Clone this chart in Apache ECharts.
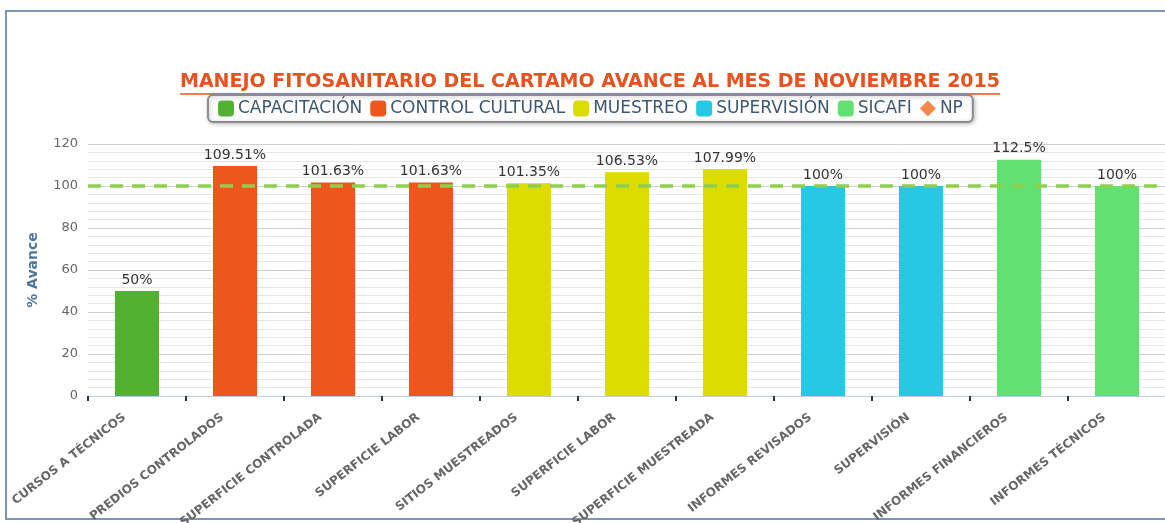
<!DOCTYPE html>
<html>
<head>
<meta charset="utf-8">
<script src="https://cdn.jsdelivr.net/npm/echarts@6/dist/echarts.min.js"></script>
<style>
  html, body { margin: 0; padding: 0; background: #fff; overflow: hidden; }
  #frame { position: absolute; left: 5px; top: 10px; width: 1175px; height: 506px; border: 2px solid #7f93b3; }
  #box { position: absolute; left: 0; top: 0; width: 1165px; height: 523px; }
</style>
</head>
<body>
<div id="frame"></div>
<div id="box"></div>
<script>
var categorias = ['CURSOS A TÉCNICOS', 'PREDIOS CONTROLADOS', 'SUPERFICIE CONTROLADA', 'SUPERFICIE LABOR',
    'SITIOS MUESTREADOS', 'SUPERFICIE LABOR', 'SUPERFICIE MUESTREADA', 'INFORMES REVISADOS',
    'SUPERVISIÓN', 'INFORMES FINANCIEROS', 'INFORMES TÉCNICOS'];
// valores por componente (null donde no aplica)
var capacitacion   = [50, null, null, null, null, null, null, null, null, null, null];
var controlCultural = [null, 109.51, 101.63, 101.63, null, null, null, null, null, null, null];
var muestreo       = [null, null, null, null, 101.35, 106.53, 107.99, null, null, null, null];
var supervision    = [null, null, null, null, null, null, null, 100, 100, null, null];
var sicafi         = [null, null, null, null, null, null, null, null, null, 112.5, 100];
var meta = 100;
var yTicks = [0, 20, 40, 60, 80, 100, 120];

var chart = echarts.init(document.getElementById('box'));

function barra(nombre, datos, color) {
    return {
        name: nombre,
        type: 'bar',
        stack: 'avance',
        barWidth: '45%',
        z: 3,
        data: datos,
        itemStyle: { color: color },
        label: {
            show: true,
            position: 'top',
            distance: 4,
            color: '#333',
            fontSize: 14,
            fontFamily: 'DejaVu Sans',
            formatter: '{c}%'
        }
    };
}

var option = {
    animation: false,
    textStyle: { fontFamily: 'DejaVu Sans' },
    title: {
        text: 'MANEJO FITOSANITARIO DEL CARTAMO AVANCE AL MES DE NOVIEMBRE 2015',
        left: 180,
        top: 73,
        padding: 0,
        textStyle: { color: '#e5531f', fontSize: 19, fontWeight: 'bold', fontFamily: 'DejaVu Sans' }
    },
    graphic: [{
        type: 'line',
        shape: { x1: 180, y1: 94, x2: 1000, y2: 94 },
        style: { stroke: '#e5531f', lineWidth: 1.5 }
    }],
    legend: {
        top: 95,
        left: 208,
        data: [
            { name: 'CAPACITACIÓN' },
            { name: 'CONTROL CULTURAL' },
            { name: 'MUESTREO' },
            { name: 'SUPERVISIÓN' },
            { name: 'SICAFI' },
            { name: 'NP', icon: 'diamond' }
        ],
        icon: 'roundRect',
        itemWidth: 16,
        itemHeight: 16,
        itemGap: 8,
        padding: [5, 10, 5, 10],
        borderColor: '#8c8c8c',
        borderWidth: 2,
        borderRadius: 5,
        backgroundColor: '#fff',
        shadowColor: 'rgba(0,0,0,0.25)',
        shadowBlur: 4,
        shadowOffsetX: 1,
        shadowOffsetY: 1,
        textStyle: { color: '#3e576f', fontSize: 17, fontFamily: 'DejaVu Sans', padding: [0, 0, 0, -1] }
    },
    grid: { left: 88, right: -1, top: 144, bottom: 127, outerBoundsMode: 'none' },
    xAxis: {
        type: 'category',
        data: categorias,
        axisLine: { lineStyle: { color: '#c0d0e0', width: 1 } },
        axisTick: { show: true, length: 5, lineStyle: { color: '#333', width: 2 } },
        axisLabel: {
            rotate: 38,
            interval: 0,
            margin: 10,
            padding: [0, 16, 0, 0],
            color: '#666',
            fontSize: 12,
            fontWeight: 'bold',
            fontFamily: 'DejaVu Sans'
        }
    },
    yAxis: {
        type: 'value',
        min: yTicks[0],
        max: yTicks[yTicks.length - 1],
        interval: 20,
        name: '% Avance',
        nameLocation: 'middle',
        nameGap: 48,
        nameTextStyle: { color: '#4d759e', fontSize: 14, fontWeight: 'bold', fontFamily: 'DejaVu Sans' },
        axisLine: { show: false },
        axisTick: { show: false },
        axisLabel: { color: '#666', fontSize: 13, margin: 10, fontFamily: 'DejaVu Sans' },
        splitLine: { lineStyle: { color: '#d0d0d0' } },
        minorTick: { show: false, splitNumber: 5 },
        minorSplitLine: { show: true, lineStyle: { color: '#e6e6e6' } }
    },
    series: [
        barra('CAPACITACIÓN', capacitacion, '#52b131'),
        barra('CONTROL CULTURAL', controlCultural, '#ed571d'),
        barra('MUESTREO', muestreo, '#dcdc00'),
        barra('SUPERVISIÓN', supervision, '#26c8e3'),
        barra('SICAFI', sicafi, '#62e072'),
        {
            name: 'NP',
            type: 'line',
            data: [],
            z: 1,
            symbol: 'diamond',
            itemStyle: { color: '#f5894d' },
            markLine: {
                silent: true,
                symbol: 'none',
                label: { show: false },
                lineStyle: { color: '#8dcf4e', width: 3.5, type: [13, 9] },
                data: [{ yAxis: meta }]
            }
        }
    ]
};

chart.setOption(option);
</script>
</body>
</html>
